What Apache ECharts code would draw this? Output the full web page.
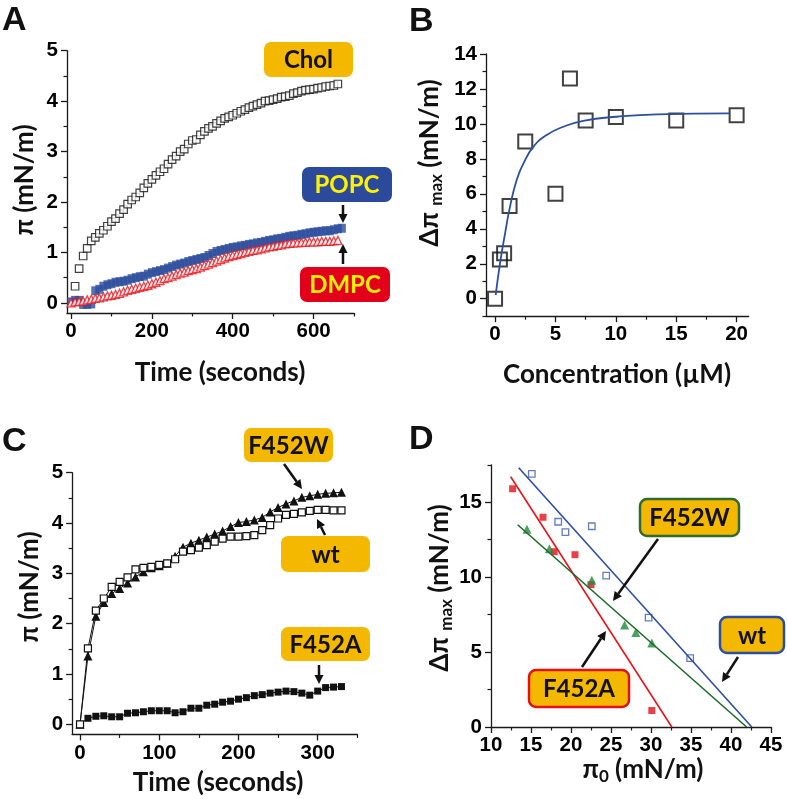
<!DOCTYPE html>
<html>
<head>
<meta charset="utf-8">
<script src="https://cdn.jsdelivr.net/npm/echarts@6/dist/echarts.min.js"></script>
<style>html,body{margin:0;padding:0;background:#fff;}#c{width:787px;height:799px;}</style>
</head>
<body>
<div id="c"></div>
<script>
// ---------- Panel A data ----------
const cholT = [10,20,30,40,50,60,70,80,90,100,110,120,130,140,150,160,170,180,190,200,210,220,230,240,250,260,270,280,290,300,310,320,330,340,350,360,370,380,390,400,410,420,430,440,450,460,470,480,490,500,510,520,530,540,550,560,570,580,590,600,610,620,630,640,650,660];
const cholV = [0.33,0.68,0.93,1.08,1.23,1.30,1.38,1.44,1.52,1.61,1.67,1.77,1.85,1.96,2.04,2.10,2.18,2.28,2.37,2.45,2.53,2.60,2.66,2.75,2.84,2.91,3.00,3.05,3.15,3.22,3.24,3.33,3.40,3.46,3.50,3.56,3.61,3.66,3.69,3.72,3.76,3.80,3.83,3.87,3.90,3.93,3.96,4.00,4.01,4.03,4.05,4.08,4.09,4.11,4.15,4.17,4.20,4.22,4.23,4.24,4.26,4.27,4.29,4.30,4.31,4.34];
const popcT = [0,10,20,30,40,50,60,70,80,90,100,110,120,130,140,150,160,170,180,190,200,210,220,230,240,250,260,270,280,290,300,310,320,330,340,350,360,370,380,390,400,410,420,430,440,450,460,470,480,490,500,510,520,530,540,550,560,570,580,590,600,610,620,630,640,650,660,670];
const popcV = [0.02,0.05,0.05,-0.03,-0.03,-0.02,0.24,0.27,0.33,0.36,0.38,0.41,0.42,0.43,0.45,0.48,0.50,0.52,0.53,0.57,0.60,0.62,0.64,0.66,0.69,0.72,0.75,0.77,0.79,0.82,0.84,0.86,0.88,0.90,0.94,0.98,1.02,1.04,1.06,1.08,1.10,1.11,1.13,1.14,1.16,1.17,1.19,1.20,1.22,1.24,1.25,1.27,1.28,1.30,1.32,1.33,1.34,1.36,1.37,1.39,1.40,1.41,1.42,1.43,1.43,1.45,1.47,1.48];
const dmpcT = [0,10,20,30,40,50,60,70,80,90,100,110,120,130,140,150,160,170,180,190,200,210,220,230,240,250,260,270,280,290,300,310,320,330,340,350,360,370,380,390,400,410,420,430,440,450,460,470,480,490,500,510,520,530,540,550,560,570,580,590,600,610,620,630,640,650,660];
const dmpcV = [0.00,0.02,0.03,0.04,0.06,0.07,0.09,0.10,0.12,0.14,0.15,0.17,0.19,0.22,0.25,0.27,0.29,0.31,0.33,0.35,0.38,0.41,0.44,0.48,0.50,0.53,0.56,0.59,0.61,0.64,0.66,0.68,0.71,0.74,0.77,0.80,0.83,0.86,0.89,0.92,0.94,0.96,0.98,1.00,1.02,1.04,1.05,1.07,1.09,1.11,1.12,1.14,1.15,1.17,1.18,1.19,1.19,1.20,1.20,1.21,1.21,1.21,1.22,1.22,1.22,1.23,1.24];

// ---------- Panel B data ----------
const concX = [0,0.4,0.75,1.2,2.5,5,6.2,7.5,10,15,20];
const dPiY  = [0,2.25,2.6,5.3,9.0,6.0,12.6,10.2,10.4,10.2,10.5];
const fitX  = [0.05,0.41,0.83,1.24,1.79,2.35,3.18,4.28,5.66,7.3,10.06,13.4,19.4];
const fitY  = [0.2,2.02,3.74,5.27,6.79,7.74,8.7,9.37,9.84,10.18,10.41,10.55,10.6];

// ---------- Panel C data ----------
const cT = [0,10,20,30,40,50,60,70,80,90,100,110,120,130,140,150,160,170,180,190,200,210,220,230,240,250,260,270,280,290,300,310,320,330];
const wtC   = [0,1.51,2.26,2.5,2.73,2.83,2.92,3.08,3.11,3.13,3.17,3.2,3.28,3.43,3.46,3.51,3.56,3.63,3.69,3.73,3.73,3.74,3.76,3.86,3.96,4.09,4.16,4.18,4.21,4.24,4.26,4.26,4.25,4.25];
const f452wC = [0,1.36,2.15,2.42,2.6,2.7,2.81,2.93,3.03,3.11,3.15,3.2,3.34,3.52,3.6,3.66,3.72,3.78,3.84,3.93,4.01,4.03,4.06,4.11,4.22,4.31,4.38,4.44,4.51,4.54,4.57,4.59,4.6,4.61];
const f452aC = [0,0.12,0.16,0.17,0.15,0.15,0.22,0.23,0.25,0.27,0.27,0.27,0.23,0.25,0.32,0.32,0.38,0.4,0.44,0.46,0.5,0.53,0.57,0.59,0.62,0.64,0.66,0.65,0.62,0.58,0.66,0.73,0.74,0.75];

// ---------- Panel D data ----------
const wtDx = [15.1,18.4,19.3,22.6,24.4,29.7,34.9];
const wtDy = [16.9,13.7,13.0,13.4,10.1,7.3,4.6];
const aDx = [12.7,16.5,17.9,20.5,22.5,30.1];
const aDy = [15.9,14.0,11.7,11.5,9.5,1.1];
const wDx = [14.5,17.3,22.6,26.7,28.1,30.1];
const wDy = [13.2,11.9,9.8,6.8,6.3,5.6];
const wtLineX = [13.46,42.6], wtLineY = [17.3,0];
const aLineX = [12.46,32.6], aLineY = [16.7,0];
const wLineX = [13.33,41.95], wLineY = [13.5,0];

// ---------- tick values ----------
const aXMaj=[0,200,400,600], aXMin=[100,300,500,700];
const aYMaj=[0,1,2,3,4,5], aYMin=[0.5,1.5,2.5,3.5,4.5];
const bXMaj=[0,5,10,15,20], bXMin=[2.5,7.5,12.5,17.5];
const bYMaj=[0,2,4,6,8,10,12,14], bYMin=[-1,1,3,5,7,9,11,13];
const cXMaj=[0,100,200,300], cXMin=[50,150,250,350];
const cYMaj=[0,1,2,3,4,5], cYMin=[0.5,1.5,2.5,3.5,4.5];
const dXMaj=[10,15,20,25,30,35,40,45], dXMin=[12.5,17.5,22.5,27.5,32.5,37.5,42.5];
const dYMaj=[0,5,10,15], dYMin=[2.5,7.5,12.5,17.5];

const zip=(a,b)=>a.map((v,i)=>[v,b[i]]);
const FONT="Lato, 'DejaVu Sans', sans-serif";
const TFONT="'Liberation Sans', Arial, sans-serif";
const AX='#1a1a1a';
const ORANGE='#F5B800';

function axes(kind, grid, min, max, majors, minors){
  const pos = kind==='x'?'bottom':'left';
  const main={gridIndex:grid,type:'value',min,max,position:pos,
    splitLine:{show:false},
    axisLine:{show:true,onZero:false,lineStyle:{color:AX,width:1.3}},
    axisTick:{show:true,inside:false,length:6,lineStyle:{color:AX,width:1.3},customValues:majors},
    axisLabel:{show:true,customValues:majors,fontFamily:TFONT,fontWeight:'bold',fontSize:20.5,color:'#000',margin:kind==='x'?8:9}};
  const minor={gridIndex:grid,type:'value',min,max,position:pos,
    splitLine:{show:false},
    axisLine:{show:false,onZero:false},
    axisTick:{show:true,inside:false,length:3.5,lineStyle:{color:AX,width:1.2},customValues:minors},
    axisLabel:{show:false}};
  return [main,minor];
}

const xAxis=[].concat(
  axes('x',0,-10,700,aXMaj,aXMin),
  axes('x',1,-0.75,21,bXMaj,bXMin),
  axes('x',2,-10,350,cXMaj,cXMin),
  axes('x',3,10,45,dXMaj,dXMin));
const yAxis=[].concat(
  axes('y',0,-0.2,5,aYMaj,aYMin),
  axes('y',1,-1,14,bYMaj,bYMin),
  axes('y',2,-0.2,5,cYMaj,cYMin),
  axes('y',3,0,17.5,dYMaj,dYMin));

const grid=[
  {left:67,top:50.7,width:287,height:262.3},
  {left:486,top:54,width:262.7,height:262.2},
  {left:72.1,top:472.7,width:285.2,height:261.7},
  {left:491,top:464.8,width:280,height:262.2}];

const series=[
  // A
  {type:'scatter',xAxisIndex:0,yAxisIndex:0,data:zip(cholT,cholV),symbol:'rect',symbolSize:7.5,
   itemStyle:{color:'#fff',borderColor:'#111',borderWidth:1.2}},
  {type:'scatter',xAxisIndex:0,yAxisIndex:0,data:zip(popcT,popcV),symbol:'rect',symbolSize:[8,9],
   itemStyle:{color:'#2B4C9C'}},
  {type:'scatter',xAxisIndex:0,yAxisIndex:0,data:zip(dmpcT,dmpcV),symbol:'triangle',symbolSize:8,
   itemStyle:{color:'#fff',borderColor:'#E8141C',borderWidth:1.3}},
  // B
  {type:'line',xAxisIndex:2,yAxisIndex:2,data:zip(fitX,fitY),smooth:true,showSymbol:false,
   lineStyle:{color:'#2C4FA0',width:1.8}},
  {type:'scatter',xAxisIndex:2,yAxisIndex:2,data:zip(concX,dPiY),symbol:'rect',symbolSize:14,
   itemStyle:{color:'rgba(255,255,255,0)',borderColor:'#111',borderWidth:2}},
  // C
  {type:'line',xAxisIndex:4,yAxisIndex:4,data:zip(cT,f452aC),symbol:'rect',symbolSize:7,
   lineStyle:{color:'#111',width:1},itemStyle:{color:'#111'}},
  {type:'line',xAxisIndex:4,yAxisIndex:4,data:zip(cT,f452wC),symbol:'triangle',symbolSize:9,
   lineStyle:{color:'#111',width:1},itemStyle:{color:'#111'}},
  {type:'line',xAxisIndex:4,yAxisIndex:4,data:zip(cT,wtC),symbol:'rect',symbolSize:7,
   lineStyle:{color:'#111',width:1},itemStyle:{color:'#fff',borderColor:'#111',borderWidth:1.2}},
  // D
  {type:'line',xAxisIndex:6,yAxisIndex:6,data:zip(wtLineX,wtLineY),showSymbol:false,lineStyle:{color:'#2D4FA3',width:1.6}},
  {type:'line',xAxisIndex:6,yAxisIndex:6,data:zip(aLineX,aLineY),showSymbol:false,lineStyle:{color:'#E8141C',width:1.6}},
  {type:'line',xAxisIndex:6,yAxisIndex:6,data:zip(wLineX,wLineY),showSymbol:false,lineStyle:{color:'#1D6B2A',width:1.6}},
  {type:'scatter',xAxisIndex:6,yAxisIndex:6,data:zip(wtDx,wtDy),symbol:'rect',symbolSize:6.5,
   itemStyle:{color:'rgba(255,255,255,0)',borderColor:'#3A5DAE',borderWidth:1.3}},
  {type:'scatter',xAxisIndex:6,yAxisIndex:6,data:zip(aDx,aDy),symbol:'rect',symbolSize:7,
   itemStyle:{color:'#E3101A'}},
  {type:'scatter',xAxisIndex:6,yAxisIndex:6,data:zip(wDx,wDy),symbol:'triangle',symbolSize:9,
   itemStyle:{color:'#1E8A3A'}}
];
series.forEach(s=>{s.silent=true;s.animation=false;});

// ---------- graphic helpers ----------
function txt(x,y,text,size,opts){
  opts=opts||{};
  return {type:'text',x,y,rotation:opts.rot||0,z:100,
    style:{text,fill:opts.color||'#111',font:`bold ${size}px ${opts.family||FONT}`,
      align:opts.align||'center',verticalAlign:opts.va||'middle',textAlign:opts.align||'center',textVerticalAlign:opts.va||'middle',
      rich:opts.rich}};
}
function box(x,y,w,h,fill,text,color,border){
  return [{type:'rect',z:100,shape:{x,y,width:w,height:h,r:7},
     style:{fill,stroke:border||null,lineWidth:border?2.5:0}},
    txt(x+w/2,y+h/2+1,text,24,{color})];
}
function arrow(x1,y1,x2,y2){
  const dx=x2-x1,dy=y2-y1,L=Math.hypot(dx,dy),ux=dx/L,uy=dy/L,hl=9,hw=4.5;
  const bx=x2-ux*hl,by=y2-uy*hl;
  return [{type:'line',z:100,shape:{x1,y1,x2:bx,y2:by},style:{stroke:'#111',lineWidth:2.5}},
    {type:'polygon',z:100,shape:{points:[[x2,y2],[bx-uy*hw,by+ux*hw],[bx+uy*hw,by-ux*hw]]},style:{fill:'#111'}}];
}
const richSub={a:{fontSize:26,fontWeight:'bold',fontFamily:FONT,lineHeight:30,verticalAlign:'middle',fill:'#111'},
  s:{fontSize:17,fontWeight:'bold',fontFamily:FONT,lineHeight:10,verticalAlign:'bottom',fill:'#111'}};

const graphics=[].concat(
  // panel letters
  txt(2,4,'A',34,{family:TFONT,align:'left',va:'top'}),
  txt(409,5,'B',34,{family:TFONT,align:'left',va:'top'}),
  txt(2,425,'C',34,{family:TFONT,align:'left',va:'top'}),
  txt(409,423,'D',34,{family:TFONT,align:'left',va:'top'}),
  // axis titles
  txt(25,180,'π (mN/m)',26,{rot:Math.PI/2}),
  txt(220,373,'Time (seconds)',26),
  txt(430,163,'{a|Δπ }{s|max}{a| (mN/m)}',26,{rot:Math.PI/2,rich:richSub}),
  txt(617,375,'Concentration (µM)',26),
  txt(30,587,'π (mN/m)',26,{rot:Math.PI/2}),
  txt(218,783,'Time (seconds)',26),
  txt(440,588,'{a|Δπ }{s|max}{a| (mN/m)}',26,{rot:Math.PI/2,rich:richSub}),
  txt(643,770,'{a|π}{s|0}{a| (mN/m)}',26,{rich:richSub}),
  // Panel A annotations
  box(264,42,89,35,ORANGE,'Chol','#111'),
  box(302,167,90,35,'#2B4A9B','POPC','#FFF000'),
  arrow(343,205,343,223),
  box(300,267,90,35,'#E2001A','DMPC','#FFF000'),
  arrow(343,264,343,244),
  // Panel C annotations
  box(244,428,89,34,ORANGE,'F452W','#111'),
  arrow(284,464,302,489),
  box(281,536,89,36,ORANGE,'wt','#111'),
  arrow(325,535,317,519),
  box(281,627,89,34,ORANGE,'F452A','#111'),
  arrow(319,665,319,684),
  // Panel D annotations
  box(640,499,99,37,ORANGE,'F452W','#111','#2F6B2F'),
  arrow(658,539,613,601),
  box(720,617,64,36,ORANGE,'wt','#111','#2B4FA0'),
  arrow(738,657,722,682),
  box(529,670,100,37,ORANGE,'F452A','#111','#E3101A'),
  arrow(582,667,606,631)
);

const chart=echarts.init(document.getElementById('c'),null,{renderer:'canvas'});
chart.setOption({animation:false,backgroundColor:'#fff',grid,xAxis,yAxis,series,graphic:{elements:graphics}});
</script>
</body>
</html>
